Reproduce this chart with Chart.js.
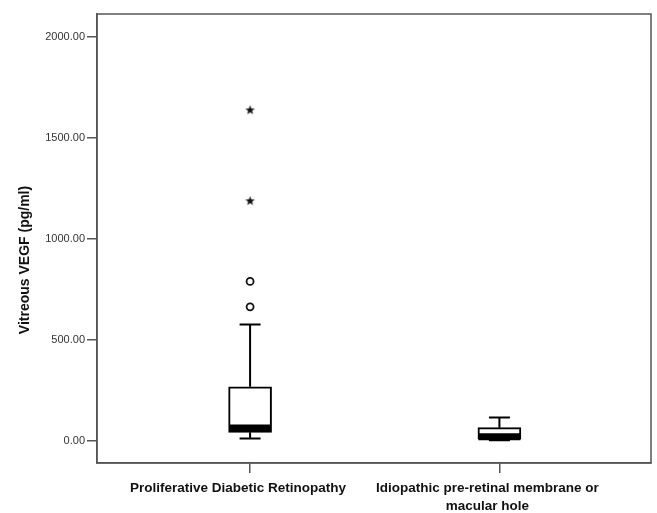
<!DOCTYPE html>
<html>
<head>
<meta charset="utf-8">
<script src="https://cdn.jsdelivr.net/npm/chart.js@4/dist/chart.umd.min.js"></script>
<style>
  html, body { margin: 0; padding: 0; background: #fff; }
  #wrap { width: 657px; height: 513px; }
</style>
</head>
<body>
<div id="wrap"><canvas id="box" width="657" height="513"></canvas></div>
<script>
// values
const categories = ['Proliferative Diabetic Retinopathy', ['Idiopathic pre-retinal membrane or', 'macular hole']];
const positions = [1, 2];
const whiskerLow = [11, 3];
const q1 = [42, 8];
const median = [63, 20];
const q3 = [267, 65];
const whiskerHigh = [576, 115];
const circleOutliers = [[789, 663], []];
const starOutliers = [[1638, 1188], []];
const yTicks = [0, 500, 1000, 1500, 2000];
const yTitle = 'Vitreous VEGF (pg/ml)';

const axisColor = '#555';

// small filled star used for the extreme points
function makeStar() {
    const c = document.createElement('canvas');
    c.width = 11; c.height = 11;
    const g = c.getContext('2d');
    g.fillStyle = '#111';
    g.beginPath();
    for (let i = 0; i < 10; i++) {
        const r = i % 2 === 0 ? 5 : 2.1;
        const a = -Math.PI / 2 + i * Math.PI / 5;
        const px = 5.5 + r * Math.cos(a), py = 5.7 + r * Math.sin(a);
        if (i === 0) g.moveTo(px, py); else g.lineTo(px, py);
    }
    g.closePath();
    g.fill();
    return c;
}
const star = makeStar();

let circlePts = [], starPts = [];
positions.forEach((p, i) => {
    circleOutliers[i].forEach(v => circlePts.push({ x: p, y: v }));
    starOutliers[i].forEach(v => starPts.push({ x: p, y: v }));
});

const boxExtras = {
    id: 'boxExtras',
    afterDatasetsDraw(chart) {
        const ctx = chart.ctx;
        const xs = chart.scales.x, ys = chart.scales.y;
        ctx.save();
        ctx.strokeStyle = '#000';
        positions.forEach((p, i) => {
            const x = xs.getPixelForValue(p);
            // whiskers
            ctx.lineWidth = 2;
            ctx.beginPath();
            ctx.moveTo(x, ys.getPixelForValue(q3[i]));
            ctx.lineTo(x, ys.getPixelForValue(whiskerHigh[i]));
            ctx.moveTo(x, ys.getPixelForValue(q1[i]));
            ctx.lineTo(x, ys.getPixelForValue(whiskerLow[i]));
            ctx.moveTo(x - 10.5, ys.getPixelForValue(whiskerHigh[i]));
            ctx.lineTo(x + 10.5, ys.getPixelForValue(whiskerHigh[i]));
            ctx.moveTo(x - 10.5, ys.getPixelForValue(whiskerLow[i]));
            ctx.lineTo(x + 10.5, ys.getPixelForValue(whiskerLow[i]));
            ctx.stroke();
            // median
            ctx.lineWidth = 7;
            ctx.beginPath();
            ctx.moveTo(x - 21, ys.getPixelForValue(median[i]));
            ctx.lineTo(x + 21, ys.getPixelForValue(median[i]));
            ctx.stroke();
        });
        ctx.restore();
    },
    afterDraw(chart) {
        const ctx = chart.ctx, a = chart.chartArea;
        ctx.save();
        ctx.strokeStyle = axisColor;
        ctx.lineWidth = 1.5;
        ctx.strokeRect(a.left, a.top, a.right - a.left, a.bottom - a.top);
        // y axis title
        ctx.translate(25, 260);
        ctx.rotate(-Math.PI / 2);
        ctx.font = 'bold 14px "Liberation Sans", Arial, sans-serif';
        ctx.fillStyle = '#111';
        ctx.textAlign = 'center';
        ctx.textBaseline = 'middle';
        ctx.fillText(yTitle, 0, 0);
        ctx.restore();
    }
};

const ctx = document.getElementById('box');

let chart = new Chart(ctx, {
    type: 'bar',
    data: {
        datasets: [{
            type: 'bar',
            data: positions.map((p, i) => ({ x: p, y: [q1[i], q3[i]] })),
            backgroundColor: '#fff',
            borderColor: '#000',
            borderWidth: 2,
            borderSkipped: false,
            barThickness: 43
        }, {
            type: 'scatter',
            data: circlePts,
            pointStyle: 'circle',
            pointRadius: 3.5,
            pointBackgroundColor: '#fff',
            pointBorderColor: '#111',
            pointBorderWidth: 1.8
        }, {
            type: 'scatter',
            data: starPts,
            pointStyle: star,
            pointRadius: 5
        }]
    },
    options: {
        responsive: false,
        animation: false,
        layout: { padding: { top: 14, right: 5, left: 0, bottom: 0 } },
        plugins: { legend: { display: false }, tooltip: { enabled: false } },
        scales: {
            x: {
                type: 'linear',
                offset: false,
                min: 0.386,
                max: 2.608,
                afterBuildTicks: s => { s.ticks = positions.map(v => ({ value: v })); },
                afterFit: s => { s.height = 50; },
                grid: { offset: false, drawOnChartArea: false, tickLength: 10, color: axisColor, lineWidth: 1.5 },
                border: { color: axisColor, width: 1.5 },
                ticks: {
                    autoSkip: false,
                    maxRotation: 0,
                    padding: 6,
                    labelOffset: -12,
                    color: '#111',
                    font: { family: '"Liberation Sans", Arial, sans-serif', size: 13.5, weight: 'bold', lineHeight: 1.33 },
                    callback: (v, i) => categories[i]
                }
            },
            y: {
                min: -110,
                max: 2113,
                afterBuildTicks: s => { s.ticks = yTicks.map(v => ({ value: v })); },
                afterFit: s => { s.width = 97; },
                grid: { drawOnChartArea: false, tickLength: 10, color: axisColor, lineWidth: 1.5 },
                border: { color: axisColor, width: 1.5 },
                ticks: {
                    padding: 2,
                    color: '#333',
                    font: { family: '"Liberation Sans", Arial, sans-serif', size: 11 },
                    callback: v => v.toFixed(2)
                }
            }
        }
    },
    plugins: [boxExtras]
});
</script>
</body>
</html>
